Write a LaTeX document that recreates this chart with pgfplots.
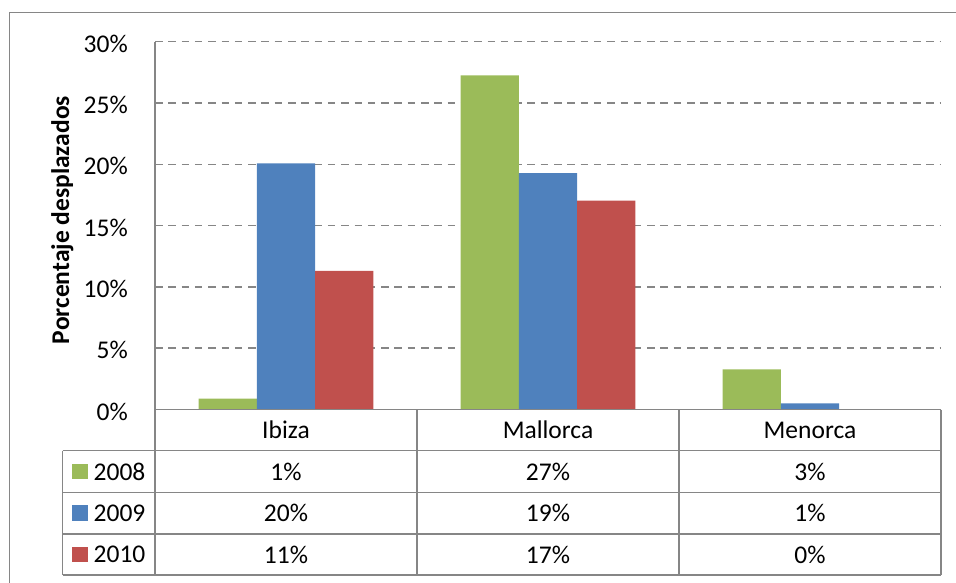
\documentclass[border=0pt]{standalone}
\usepackage{fontspec}
\setmainfont{Carlito}
\usepackage{pgfplots}
\usepackage{pgfplotstable}
\pgfplotsset{compat=1.18}
\definecolor{g8}{HTML}{9BBB59}
\definecolor{b9}{HTML}{4F81BD}
\definecolor{r10}{HTML}{C0504D}
\definecolor{ln}{HTML}{868686}
\pgfplotstableread{
x y2008 y2009 y2010
1 0.0088 0.2008 0.1130
2 0.2726 0.1927 0.1704
3 0.0328 0.0050 0.0000
}\data
\newcommand{\tf}{\fontsize{25.5}{30}\selectfont}
\begin{document}
\begin{tikzpicture}[x=1pt,y=1pt,font=\tf]
\useasboundingbox (0,0) rectangle (956,582);
\begin{scope}
\clip (0,0) rectangle (956,582);
\draw[ln, line width=1.5pt] (9.5,-20) rectangle (990,569.3);
\end{scope}
\begin{axis}[at={(155pt,172.5pt)}, anchor=south west, scale only axis,
  width=786pt, height=367.8pt,
  ybar=0pt, bar width=58.3pt,
  xmin=0.5, xmax=3.5, ymin=0, ymax=0.30,
  axis x line=none, axis y line*=left,
  y axis line style={ln, line width=1.5pt, -},
  ytick={0,0.05,0.10,0.15,0.20,0.25,0.30},
  yticklabels={0\%,5\%,10\%,15\%,20\%,25\%,30\%},
  major tick length=0pt,
  yticklabel style={anchor=east, inner sep=0pt, xshift=-27pt, yshift=-2pt, font=\tf},
  ymajorgrids,
  major grid style={ln, line width=1.5pt, dash pattern=on 7.5pt off 5.8pt},
  ylabel={Porcentaje desplazados},
  ylabel style={at={(axis description cs:-0.118,0.515)}, anchor=center, font=\tf\bfseries},
]
\addplot[fill=g8, draw=none] table[x=x, y=y2008] {\data};
\addplot[fill=b9, draw=none] table[x=x, y=y2009] {\data};
\addplot[fill=r10, draw=none] table[x=x, y=y2010] {\data};
\end{axis}
% data table
\begin{scope}[ln, line width=1.5pt]
\draw (155,172.5) -- (941,172.5);
\foreach \yy in {131.3,89.7,48,7} {\draw (62.7,\yy) -- (941,\yy);}
\foreach \xx in {155,417,679,941} {\draw (\xx,172.5) -- (\xx,7);}
\draw (62.7,131.3) -- (62.7,7);
\end{scope}
\node at (286,151.9) {Ibiza};
\node at (548,151.9) {Mallorca};
\node at (810,151.9) {Menorca};
\fill[g8] (72.3,102.8) rectangle (87.7,118.2);
\fill[b9] (72.3,61.15) rectangle (87.7,76.55);
\fill[r10] (72.3,19.8) rectangle (87.7,35.2);
\node[anchor=west, inner sep=0pt] at (93.5,110.5) {2008};
\node[anchor=west, inner sep=0pt] at (93.5,68.85) {2009};
\node[anchor=west, inner sep=0pt] at (93.5,27.5) {2010};
\node at (286,110.5) {1\%};
\node at (548,110.5) {27\%};
\node at (810,110.5) {3\%};
\node at (286,68.85) {20\%};
\node at (548,68.85) {19\%};
\node at (810,68.85) {1\%};
\node at (286,27.5) {11\%};
\node at (548,27.5) {17\%};
\node at (810,27.5) {0\%};
\end{tikzpicture}
\end{document}
